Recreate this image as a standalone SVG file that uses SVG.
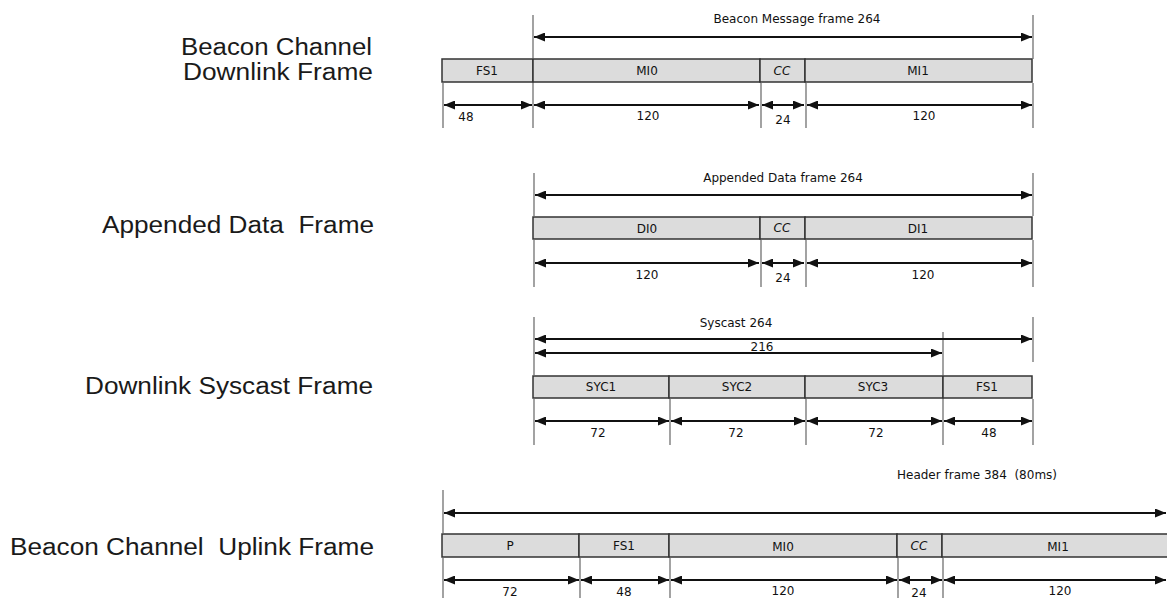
<svg xmlns="http://www.w3.org/2000/svg" width="1167" height="598" viewBox="0 0 1167 598">
<style>
.title{font-family:"Liberation Sans",Arial,sans-serif;font-size:23.5px;fill:#1a1a1a;white-space:pre}
.lbl{font-family:"DejaVu Sans","Liberation Sans",sans-serif;font-size:12px;fill:#111;text-anchor:middle;white-space:pre}
.box{fill:#dcdcdc;stroke:#333;stroke-width:1.5}
.tick{stroke:#666;stroke-width:1.2;fill:none}
.arr{stroke:#111;stroke-width:2;fill:none;marker-start:url(#ah);marker-end:url(#ah)}
</style>
<defs>
<marker id="ah" markerUnits="userSpaceOnUse" markerWidth="11" markerHeight="9" refX="11" refY="4.5" orient="auto-start-reverse">
<path d="M0,0 L11,4.5 L0,9 z" fill="#111"/>
</marker>
</defs>
<rect width="1167" height="598" fill="#fff"/>

<g id="titles">
<text class="title" x="181" y="55" textLength="191" lengthAdjust="spacingAndGlyphs">Beacon Channel</text>
<text class="title" x="183" y="80" textLength="190" lengthAdjust="spacingAndGlyphs">Downlink Frame</text>
<text class="title" x="102" y="233" textLength="272" lengthAdjust="spacingAndGlyphs">Appended Data  Frame</text>
<text class="title" x="85" y="394" textLength="288" lengthAdjust="spacingAndGlyphs">Downlink Syscast Frame</text>
<text class="title" x="10" y="555" textLength="364" lengthAdjust="spacingAndGlyphs">Beacon Channel  Uplink Frame</text>
</g>

<!-- Row 1 -->
<g id="row1">
<g id="r1-FS1"><rect class="box" x="442" y="59" width="91" height="23"/><text class="lbl" x="487" y="75">FS1</text></g>
<g id="r1-MI0"><rect class="box" x="533" y="59" width="227" height="23"/><text class="lbl" x="647" y="75">MI0</text></g>
<g id="r1-CC"><rect class="box" x="760" y="59" width="45" height="23"/><text class="lbl" x="782" y="75" font-style="italic">CC</text></g>
<g id="r1-MI1"><rect class="box" x="805" y="59" width="227" height="23"/><text class="lbl" x="918" y="75">MI1</text></g>
<text class="lbl" x="797" y="23">Beacon Message frame 264</text>
<text class="lbl" x="466" y="121">48</text>
<text class="lbl" x="648" y="120">120</text>
<text class="lbl" x="783" y="124">24</text>
<text class="lbl" x="924" y="120">120</text>
</g>

<!-- Row 2 -->
<g id="row2">
<g id="r2-DI0"><rect class="box" x="533" y="217" width="227" height="22"/><text class="lbl" x="647" y="233">DI0</text></g>
<g id="r2-CC"><rect class="box" x="760" y="217" width="45" height="22"/><text class="lbl" x="782" y="232" font-style="italic">CC</text></g>
<g id="r2-DI1"><rect class="box" x="805" y="217" width="227" height="22"/><text class="lbl" x="918" y="233">DI1</text></g>
<text class="lbl" x="783" y="182">Appended Data frame 264</text>
<text class="lbl" x="647" y="279">120</text>
<text class="lbl" x="783" y="282">24</text>
<text class="lbl" x="923" y="279">120</text>
</g>

<!-- Row 3 -->
<g id="row3">
<g id="r3-SYC1"><rect class="box" x="533" y="376" width="136" height="22"/><text class="lbl" x="601" y="391">SYC1</text></g>
<g id="r3-SYC2"><rect class="box" x="669" y="376" width="136" height="22"/><text class="lbl" x="737" y="391">SYC2</text></g>
<g id="r3-SYC3"><rect class="box" x="805" y="376" width="138" height="22"/><text class="lbl" x="873" y="391">SYC3</text></g>
<g id="r3-FS1"><rect class="box" x="943" y="376" width="89" height="22"/><text class="lbl" x="987" y="391">FS1</text></g>
<text class="lbl" x="736" y="327">Syscast 264</text>
<text class="lbl" x="762" y="351">216</text>
<text class="lbl" x="598" y="437">72</text>
<text class="lbl" x="736" y="437">72</text>
<text class="lbl" x="876" y="437">72</text>
<text class="lbl" x="989" y="437">48</text>
</g>

<!-- Row 4 -->
<g id="row4">
<g id="r4-P"><rect class="box" x="442" y="534" width="137" height="23"/><text class="lbl" x="510" y="550">P</text></g>
<g id="r4-FS1"><rect class="box" x="579" y="534" width="90" height="23"/><text class="lbl" x="624" y="550">FS1</text></g>
<g id="r4-MI0"><rect class="box" x="669" y="534" width="228" height="23"/><text class="lbl" x="783" y="551">MI0</text></g>
<g id="r4-CC"><rect class="box" x="897" y="534" width="45" height="23"/><text class="lbl" x="919" y="550" font-style="italic">CC</text></g>
<g id="r4-MI1"><rect class="box" x="942" y="534" width="226" height="23"/><text class="lbl" x="1058" y="551">MI1</text></g>
<text class="lbl" x="977" y="479">Header frame 384  (80ms)</text>
<text class="lbl" x="510" y="596">72</text>
<text class="lbl" x="624" y="596">48</text>
<text class="lbl" x="783" y="595">120</text>
<text class="lbl" x="919" y="597">24</text>
<text class="lbl" x="1060" y="595">120</text>
</g>

<g id="connectors">
<path class="tick" d="M533,15V59 M1033,15V59 M443,83V128 M533,83V128 M761,83V128 M806,83V128 M1033,83V128"/>
<line class="arr" x1="534" y1="37" x2="1032" y2="37"/>
<line class="arr" x1="444" y1="105" x2="532" y2="105"/>
<line class="arr" x1="534" y1="105" x2="759" y2="105"/>
<line class="arr" x1="762" y1="105" x2="804" y2="105"/>
<line class="arr" x1="807" y1="105" x2="1032" y2="105"/>
<path class="tick" d="M534,173V216 M1033,173V216 M534,240V287 M761,240V287 M806,240V287 M1033,240V287"/>
<line class="arr" x1="535" y1="195" x2="1032" y2="195"/>
<line class="arr" x1="535" y1="263" x2="759" y2="263"/>
<line class="arr" x1="762" y1="263" x2="804" y2="263"/>
<line class="arr" x1="807" y1="263" x2="1032" y2="263"/>
<path class="tick" d="M534,317V376 M1033,317V362 M943,332V376 M534,399V445 M670,399V445 M806,399V445 M943,399V445 M1033,399V445"/>
<line class="arr" x1="535" y1="339" x2="1032" y2="339"/>
<line class="arr" x1="535" y1="353" x2="942" y2="353"/>
<line class="arr" x1="535" y1="421" x2="669" y2="421"/>
<line class="arr" x1="671" y1="421" x2="805" y2="421"/>
<line class="arr" x1="807" y1="421" x2="942" y2="421"/>
<line class="arr" x1="944" y1="421" x2="1032" y2="421"/>
<path class="tick" d="M443,490V534 M443,558V598 M580,558V598 M670,558V598 M898,558V598 M943,558V598"/>
<line class="arr" x1="444" y1="513" x2="1166" y2="513"/>
<line class="arr" x1="444" y1="580" x2="579" y2="580"/>
<line class="arr" x1="581" y1="580" x2="669" y2="580"/>
<line class="arr" x1="671" y1="580" x2="897" y2="580"/>
<line class="arr" x1="899" y1="580" x2="942" y2="580"/>
<line class="arr" x1="944" y1="580" x2="1166" y2="580"/>
</g>
</svg>
